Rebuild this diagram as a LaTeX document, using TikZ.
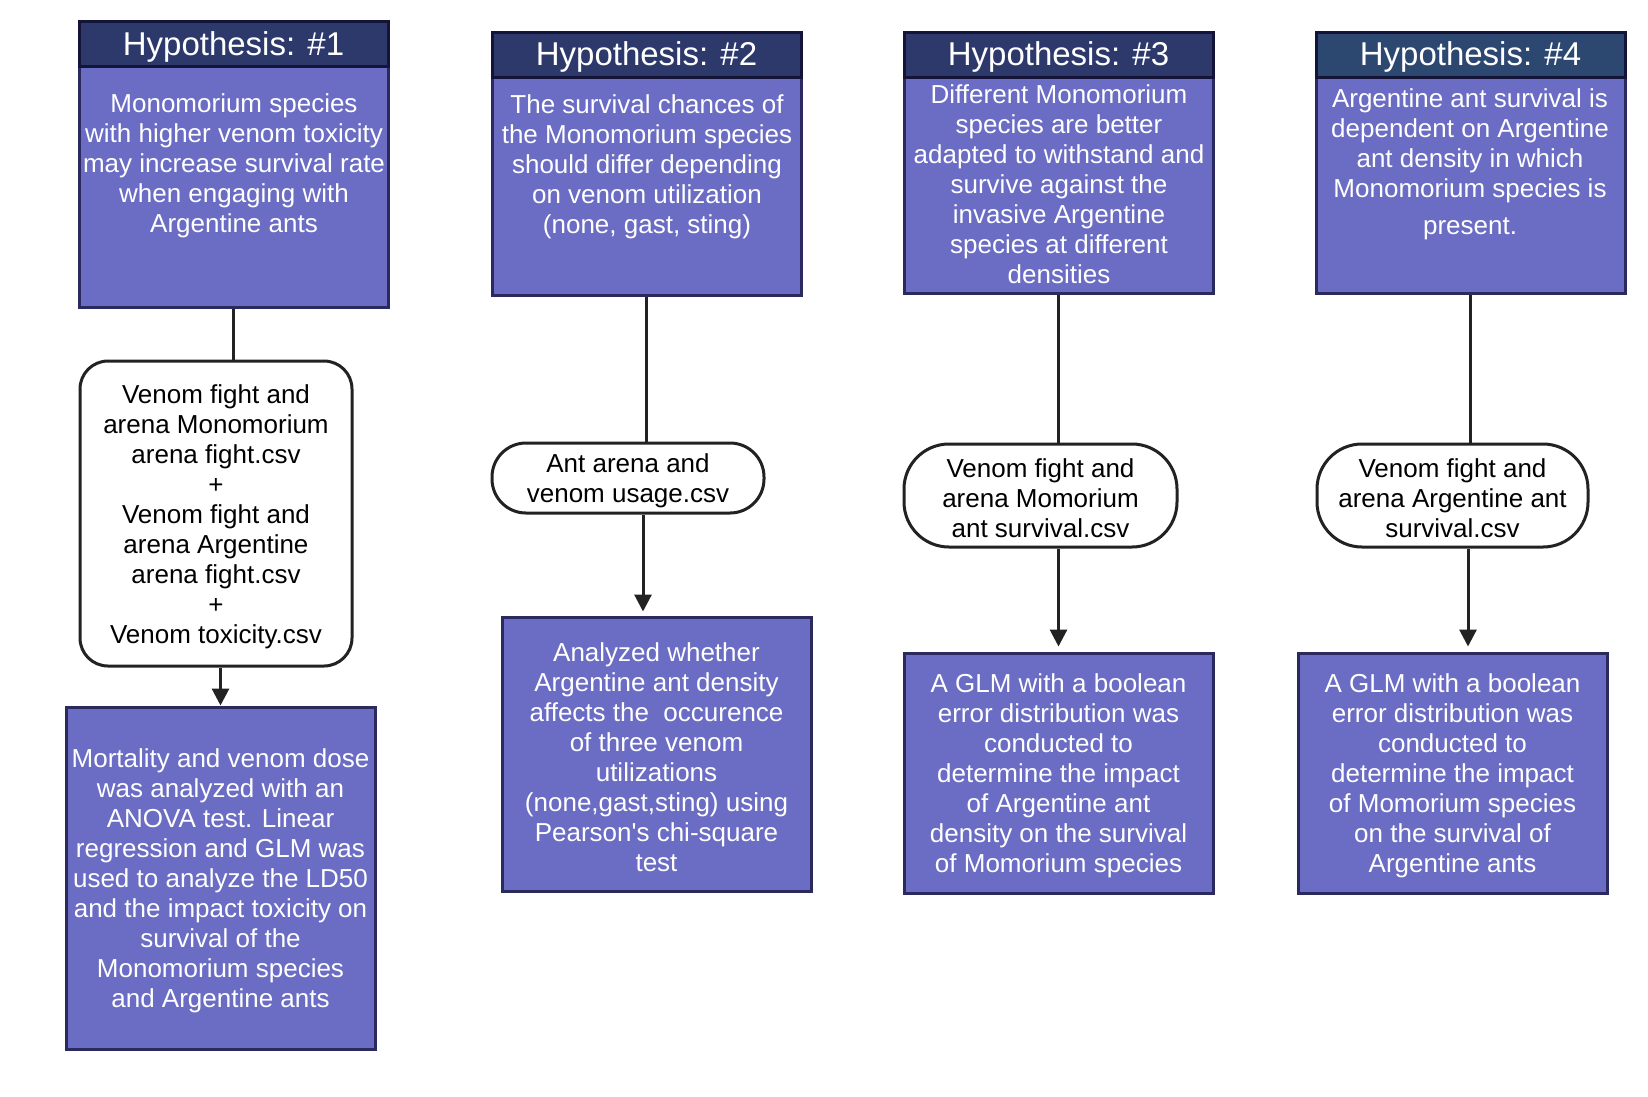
\documentclass[tikz,border=0pt]{standalone}
\usepackage{fontspec}
\setmainfont{Liberation Sans}
\usetikzlibrary{arrows.meta,calc}
\definecolor{bodyfill}{RGB}{107,108,196}
\definecolor{hborder}{RGB}{42,42,94}
\definecolor{headfill}{RGB}{45,57,107}
\definecolor{headfillb}{RGB}{44,71,112}
\definecolor{headborder}{RGB}{20,20,56}
\definecolor{lineblack}{RGB}{34,34,34}
\newcommand{\topstrut}{\rule{0pt}{25pt}}
\tikzset{
  hbody/.style={draw=hborder, line width=3pt, fill=bodyfill, inner sep=0pt, minimum width=309pt},
  hhead/.style={draw=headborder, line width=3pt, fill=headfill, inner sep=0pt, minimum width=309pt, minimum height=45pt},
  headtext/.style={text=white, anchor=base, inner sep=0pt, font=\fontsize{33}{36}\selectfont},
  bodytext/.style={text=white, align=center, inner sep=0pt, font=\fontsize{26}{30}\selectfont},
  databox/.style={draw=lineblack, line width=3pt, fill=white, text=black, align=center, inner sep=0pt, font=\fontsize{26}{30}\selectfont, minimum width=272pt},
  resbox/.style={draw=hborder, line width=3pt, fill=bodyfill, text=white, align=center, inner sep=0pt, font=\fontsize{26}{30}\selectfont, minimum width=309pt},
  conn/.style={draw=lineblack, line width=3pt},
  arr/.style={conn, -{Triangle[length=17pt,width=17pt]}},
}
\begin{document}
\begin{tikzpicture}[x=1pt,y=-1pt]
\useasboundingbox (0,0) rectangle (1648,1096);
% Hypothesis 1
\node[hbody, minimum height=241pt] (hb1) at (233.5,186.5) {};
\node[hhead] (hh1) at (233.5,43.5) {};
\node[headtext] (hl1) at (233.5,55) {Hypothesis: \#1};
\node[bodytext] (ht1) at (234,166) {Monomorium species\\with higher venom toxicity\\may increase survival rate\\when engaging with\\Argentine ants};
% Hypothesis 2
\node[hbody, minimum height=218pt] (hb2) at (646.5,186) {};
\node[hhead] (hh2) at (646.5,54.5) {};
\node[headtext] (hl2) at (646.5,65.5) {Hypothesis: \#2};
\node[bodytext] (ht2) at (647,167) {The survival chances of\\the Monomorium species\\should differ depending\\on venom utilization\\(none, gast, sting)};
% Hypothesis 3
\node[hbody, minimum height=216pt] (hb3) at (1058.5,185) {};
\node[hhead] (hh3) at (1058.5,54.5) {};
\node[headtext] (hl3) at (1058.5,65.5) {Hypothesis: \#3};
\node[bodytext] (ht3) at (1059,184) {Different Monomorium\\species are better\\adapted to withstand and\\survive against the\\invasive Argentine\\species at different\\densities};
% Hypothesis 4
\node[hbody, minimum height=216pt] (hb4) at (1470.5,185) {};
\node[hhead, fill=headfillb] (hh4) at (1470.5,54.5) {};
\node[headtext] (hl4) at (1470.5,65.5) {Hypothesis: \#4};
\node[bodytext] (ht4) at (1470,164) {Argentine ant survival is\\dependent on Argentine\\ant density in which\\Monomorium species is\\[7pt]present.};
% Data boxes
\node[databox, minimum height=305pt, rounded corners=28pt] (d1) at (216,513.5) {\topstrut Venom fight and\\arena Monomorium\\arena fight.csv\\+\\Venom fight and\\arena Argentine\\arena fight.csv\\+\\Venom toxicity.csv};
\node[databox, minimum height=70pt, rounded corners=34pt] (d2) at (628,478) {\topstrut Ant arena and\\venom usage.csv};
\node[databox, minimum width=273pt, minimum height=103pt, rounded corners=45pt] (d3) at (1040.5,495.5) {\topstrut Venom fight and\\arena Momorium\\ant survival.csv};
\node[databox, minimum width=271pt, minimum height=103pt, rounded corners=45pt] (d4) at (1452.5,495.5) {\topstrut Venom fight and\\arena Argentine ant\\survival.csv};
% Result boxes
\node[resbox, minimum height=342pt] (r1) at (220.5,878) {\topstrut Mortality and venom dose\\was analyzed with an\\ANOVA test. Linear\\regression and GLM was\\used to analyze the LD50\\and the impact toxicity on\\survival of the\\Monomorium species\\and Argentine ants};
\node[resbox, minimum height=274pt] (r2) at (656.5,754) {\topstrut Analyzed whether\\Argentine ant density\\affects the\ \ occurence\\of three venom\\utilizations\\(none,gast,sting) using\\Pearson\textquotesingle s chi-square\\test};
\node[resbox, minimum height=240pt] (r3) at (1058.5,773) {\topstrut A GLM with a boolean\\error distribution was\\conducted to\\determine the impact\\of Argentine ant\\density on the survival\\of Momorium species};
\node[resbox, minimum height=240pt] (r4) at (1452.5,773) {\topstrut A GLM with a boolean\\error distribution was\\conducted to\\determine the impact\\of Momorium species\\on the survival of\\Argentine ants};
% Connectors
\draw[conn] (hb1.south) -- (hb1.south |- d1.north);
\draw[arr] (r1.north |- d1.south) -- (r1.north);
\draw[conn] (hb2.south) -- (hb2.south |- d2.north);
\draw[arr, shorten >=4pt] ([xshift=15pt]d2.south) -- ([xshift=15pt]d2.south |- r2.north);
\draw[conn] (hb3.south) -- (hb3.south |- d3.north);
\draw[arr, shorten >=5pt] (r3.north |- d3.south) -- (r3.north);
\draw[conn] (hb4.south) -- (hb4.south |- d4.north);
\draw[arr, shorten >=5pt] ([xshift=15.5pt]d4.south) -- ([xshift=15.5pt]d4.south |- r4.north);
\end{tikzpicture}
\end{document}
